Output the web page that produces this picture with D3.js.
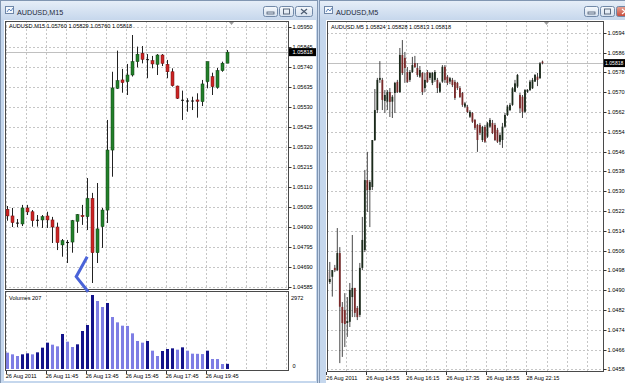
<!DOCTYPE html>
<html>
<head>
<meta charset="utf-8">
<script src="https://cdn.jsdelivr.net/npm/d3@7"></script>
<style>
body { margin: 0; background: #c9d9ee; }
svg { display: block; font-family: "Liberation Sans", Arial, sans-serif; }
</style>
</head>
<body>
<svg id="chart"></svg>
<script>
// ---- M15 chart (left) ----
var m15Open  = [1.04993,1.04958,1.04922,1.04916,1.05000,1.04980,1.04938,1.04937,1.04958,1.04937,1.04900,1.04806,1.04820,1.04821,1.04930,1.04961,1.04954,1.05050,1.04765,1.04902,1.04989,1.05304,1.05628,1.05672,1.05663,1.05698,1.05768,1.05812,1.05781,1.05773,1.05754,1.05803,1.05754,1.05715,1.05640,1.05568,1.05564,1.05564,1.05567,1.05558,1.05663,1.05689,1.05633,1.05721,1.05760];
var m15High  = [1.05010,1.05000,1.04942,1.05016,1.05016,1.04989,1.04963,1.04963,1.04980,1.04953,1.04923,1.04837,1.04832,1.04937,1.04968,1.05016,1.05157,1.05079,1.05131,1.05000,1.05462,1.05715,1.05826,1.05730,1.05756,1.05908,1.05847,1.05850,1.05808,1.05798,1.05808,1.05808,1.05777,1.05733,1.05642,1.05616,1.05576,1.05584,1.05602,1.05672,1.05768,1.05710,1.05735,1.05768,1.05829];
var m15Low   = [1.04933,1.04900,1.04900,1.04905,1.04963,1.04902,1.04902,1.04895,1.04895,1.04816,1.04779,1.04744,1.04711,1.04765,1.04869,1.04911,1.04884,1.04606,1.04711,1.04790,1.04921,1.05164,1.05625,1.05605,1.05593,1.05690,1.05738,1.05759,1.05681,1.05733,1.05698,1.05745,1.05681,1.05637,1.05572,1.05462,1.05505,1.05514,1.05474,1.05535,1.05628,1.05593,1.05626,1.05715,1.05760];
var m15Close = [1.04958,1.04923,1.04923,1.05000,1.04979,1.04933,1.04937,1.04954,1.04937,1.04900,1.04818,1.04828,1.04821,1.04933,1.04965,1.04954,1.05050,1.04765,1.04890,1.04989,1.05304,1.05630,1.05668,1.05658,1.05698,1.05768,1.05807,1.05780,1.05780,1.05756,1.05803,1.05759,1.05715,1.05642,1.05576,1.05567,1.05563,1.05563,1.05560,1.05651,1.05768,1.05637,1.05721,1.05760,1.05818];
var m15Volume = [656,589,522,589,629,589,669,857,1058,977,910,1406,1098,884,991,1526,1767,2972,2731,2490,2651,2088,1874,1740,1730,1432,1125,1058,1125,736,522,723,803,830,776,870,736,616,610,600,736,402,400,200,207];
var m15PriceTicks = ["1.04585","1.04690","1.04795","1.04900","1.05005","1.05110","1.05215","1.05320","1.05425","1.05530","1.05635","1.05740","1.05845","1.05950"];
var m15TimeBars = [0, 8, 16, 24, 32, 40];
var m15TimeLabels = ["26 Aug 2011","26 Aug 11:45","26 Aug 13:45","26 Aug 15:45","26 Aug 17:45","26 Aug 19:45"];
var m15Bid = 1.05818;
var m15VolumeMax = 2972;
// hand drawn "<" mark: [bar, price]
var m15Mark = [[16.1, 1.04744], [13.9, 1.04639], [16.3, 1.04560]];

// ---- M5 chart (right) ----
var m5Open  = [1.04975,1.04933,1.04954,1.04990,1.04981,1.05050,1.04832,1.04820,1.04767,1.04772,1.04872,1.04909,1.04828,1.04800,1.04990,1.05062,1.05345,1.05305,1.05317,1.05507,1.05628,1.05750,1.05750,1.05665,1.05662,1.05701,1.05662,1.05697,1.05742,1.05701,1.05851,1.05839,1.05782,1.05750,1.05782,1.05818,1.05798,1.05763,1.05778,1.05717,1.05782,1.05758,1.05738,1.05750,1.05750,1.05702,1.05743,1.05803,1.05763,1.05743,1.05750,1.05742,1.05738,1.05717,1.05697,1.05642,1.05641,1.05601,1.05616,1.05588,1.05568,1.05568,1.05507,1.05560,1.05520,1.05561,1.05576,1.05568,1.05548,1.05500,1.05507,1.05561,1.05608,1.05628,1.05649,1.05702,1.05723,1.05689,1.05682,1.05621,1.05702,1.05709,1.05716,1.05743,1.05763,1.05757,1.05824];
var m5High  = [1.05022,1.05014,1.04981,1.05002,1.05151,1.05074,1.04852,1.04888,1.04872,1.04929,1.05123,1.04909,1.04836,1.05010,1.05196,1.05386,1.05459,1.05345,1.05507,1.05713,1.05758,1.05826,1.05758,1.05709,1.05709,1.05717,1.05689,1.05742,1.05750,1.05879,1.05911,1.05863,1.05802,1.05790,1.05843,1.05847,1.05818,1.05806,1.05782,1.05778,1.05790,1.05782,1.05782,1.05790,1.05758,1.05742,1.05810,1.05810,1.05770,1.05762,1.05758,1.05750,1.05742,1.05725,1.05701,1.05661,1.05649,1.05628,1.05620,1.05592,1.05572,1.05576,1.05564,1.05568,1.05580,1.05596,1.05588,1.05576,1.05556,1.05535,1.05576,1.05616,1.05649,1.05657,1.05721,1.05750,1.05774,1.05697,1.05689,1.05713,1.05713,1.05750,1.05758,1.05774,1.05778,1.05822,1.05828];
var m5Low   = [1.04921,1.04925,1.04874,1.04973,1.04977,1.04605,1.04630,1.04670,1.04711,1.04751,1.04791,1.04791,1.04779,1.04791,1.04981,1.05054,1.05216,1.05155,1.05305,1.05503,1.05616,1.05738,1.05628,1.05616,1.05628,1.05600,1.05596,1.05616,1.05697,1.05697,1.05770,1.05738,1.05738,1.05742,1.05778,1.05798,1.05762,1.05758,1.05689,1.05701,1.05738,1.05750,1.05729,1.05742,1.05697,1.05697,1.05738,1.05738,1.05729,1.05733,1.05721,1.05669,1.05709,1.05677,1.05641,1.05636,1.05616,1.05596,1.05576,1.05548,1.05459,1.05527,1.05499,1.05495,1.05515,1.05556,1.05531,1.05503,1.05495,1.05487,1.05475,1.05556,1.05604,1.05624,1.05645,1.05701,1.05717,1.05616,1.05596,1.05616,1.05697,1.05705,1.05713,1.05742,1.05725,1.05754,1.05813];
var m5Close = [1.04934,1.04945,1.04981,1.04981,1.05050,1.04833,1.04767,1.04763,1.04775,1.04901,1.04909,1.04808,1.04791,1.04990,1.05103,1.05345,1.05305,1.05337,1.05507,1.05628,1.05750,1.05758,1.05669,1.05689,1.05702,1.05661,1.05682,1.05738,1.05701,1.05851,1.05778,1.05798,1.05742,1.05782,1.05810,1.05802,1.05770,1.05790,1.05701,1.05750,1.05742,1.05778,1.05778,1.05782,1.05717,1.05736,1.05803,1.05750,1.05738,1.05757,1.05729,1.05677,1.05717,1.05681,1.05649,1.05655,1.05620,1.05621,1.05581,1.05556,1.05507,1.05535,1.05560,1.05500,1.05575,1.05588,1.05535,1.05507,1.05500,1.05527,1.05561,1.05608,1.05642,1.05649,1.05716,1.05736,1.05770,1.05635,1.05621,1.05709,1.05709,1.05743,1.05750,1.05770,1.05750,1.05817,1.05818];
var m5PriceTicks = ["1.0458","1.0466","1.0474","1.0482","1.0490","1.0498","1.0506","1.0514","1.0522","1.0530","1.0538","1.0546","1.0554","1.0562","1.0570","1.0578","1.0586","1.0594"];
var m5TimeBars = [0, 16, 32, 48, 64, 80];
var m5TimeLabels = ["26 Aug 2011","26 Aug 14:55","26 Aug 16:15","26 Aug 17:35","26 Aug 18:55","28 Aug 22:15"];
var m5Bid = 1.05818;

var settings = { width: 625, height: 383 };

var svg = d3.select("#chart")
    .attr("width", settings.width)
    .attr("height", settings.height);

var defs = svg.append("defs");
var tg = defs.append("linearGradient").attr("id", "titleGrad")
    .attr("x1", 0).attr("y1", 0).attr("x2", 0).attr("y2", 1);
tg.append("stop").attr("offset", "0%").attr("stop-color", "#e6eef8");
tg.append("stop").attr("offset", "100%").attr("stop-color", "#c6d7ec");
var bg = defs.append("linearGradient").attr("id", "btnGrad")
    .attr("x1", 0).attr("y1", 0).attr("x2", 0).attr("y2", 1);
bg.append("stop").attr("offset", "0%").attr("stop-color", "#f6f9fc");
bg.append("stop").attr("offset", "100%").attr("stop-color", "#d5e0ee");
var rg = defs.append("linearGradient").attr("id", "closeGrad")
    .attr("x1", 0).attr("y1", 0).attr("x2", 0).attr("y2", 1);
rg.append("stop").attr("offset", "0%").attr("stop-color", "#e8a496");
rg.append("stop").attr("offset", "100%").attr("stop-color", "#c74a3a");

/* window chrome */
function drawWindow(x, w, title, closeRed) {
    var g = svg.append("g");
    g.append("rect").attr("x", x + 0.5).attr("y", 0.5).attr("width", w - 1).attr("height", 390)
        .attr("fill", "#c5d7ed").attr("stroke", "#8196b2");
    g.append("rect").attr("x", x + 1).attr("y", 1).attr("width", w - 2).attr("height", 19)
        .attr("fill", "url(#titleGrad)");
    // icon
    g.append("rect").attr("x", x + 5.5).attr("y", 6.5).attr("width", 8).attr("height", 7)
        .attr("fill", "#f4f8fc").attr("stroke", "#6f87a8");
    g.append("path").attr("d", "M" + (x + 7) + ",12 l2,-3 l2,2 l2,-3")
        .attr("fill", "none").attr("stroke", "#3a6ab0").attr("stroke-width", 0.8);
    g.append("text").attr("x", x + 17).attr("y", 14.5)
        .attr("font-size", "7.2px").attr("fill", "#1e2a3a").text(title);
    // buttons
    var bx = x + w - 55;
    [0, 1, 2].forEach(function (i) {
        var b = g.append("g").attr("transform", "translate(" + (bx + i * 16) + ",6)");
        b.append("rect").attr("x", 0.5).attr("y", 0.5).attr("width", i == 2 ? 17 : 14).attr("height", 10)
            .attr("rx", 2).attr("fill", (i == 2 && closeRed) ? "url(#closeGrad)" : "url(#btnGrad)")
            .attr("stroke", "#7189a8");
        if (i == 0) b.append("rect").attr("x", 4).attr("y", 6).attr("width", 7).attr("height", 2)
            .attr("fill", "none").attr("stroke", "#4a5a70").attr("stroke-width", 0.8);
        if (i == 1) b.append("rect").attr("x", 4.5).attr("y", 3).attr("width", 6).attr("height", 5)
            .attr("fill", "none").attr("stroke", "#4a5a70").attr("stroke-width", 0.9);
        if (i == 2) b.append("path").attr("d", "M6,3 L12,8 M12,3 L6,8")
            .attr("stroke", closeRed ? "#fff" : "#4a5a70").attr("stroke-width", 1.2);
    });
    return g;
}
drawWindow(0, 318, "AUDUSD,M15", false);
drawWindow(319, 320, "AUDUSD,M5", true);

// white client areas
svg.append("rect").attr("x", 4).attr("y", 20).attr("width", 312).attr("height", 361).attr("fill", "#fff");
svg.append("rect").attr("x", 326).attr("y", 20).attr("width", 300).attr("height", 363).attr("fill", "#fff");

var gridColor = "#c6c6c6";
var fs = "5.6px";

/* ---------------- left : M15 ---------------- */
var L = { x0: 5, x1: 288, y0: 21, y1: 289 };
var LV = { x0: 5, x1: 288, y0: 291, y1: 370 };

var xL = d3.scaleLinear().domain([0, 44]).range([6.7, 226.7]);
var yL = d3.scaleLinear().domain([1.04585, 1.05950]).range([287, 27]);
var yV = d3.scaleLinear().domain([0, m15VolumeMax]).range([LV.y1 - 1, 295]);

defs.append("clipPath").attr("id", "clipL").append("rect")
    .attr("x", L.x0).attr("y", L.y0).attr("width", L.x1 - L.x0).attr("height", L.y1 - L.y0);
defs.append("clipPath").attr("id", "clipLV").append("rect")
    .attr("x", LV.x0).attr("y", LV.y0).attr("width", LV.x1 - LV.x0).attr("height", LV.y1 - LV.y0);

var left = svg.append("g");
var gridL = left.append("g").attr("clip-path", "url(#clipL)");
gridL.selectAll("line.h").data(m15PriceTicks).enter().append("line")
    .attr("x1", L.x0).attr("x2", L.x1)
    .attr("y1", function (d) { return Math.round(yL(+d)) + 0.5; })
    .attr("y2", function (d) { return Math.round(yL(+d)) + 0.5; })
    .attr("stroke", gridColor).attr("stroke-dasharray", "2,2");
var vbarsL = d3.range(0, 57, 4);
gridL.selectAll("line.v").data(vbarsL).enter().append("line")
    .attr("x1", function (d) { return Math.round(xL(d)) - 0.5; })
    .attr("x2", function (d) { return Math.round(xL(d)) - 0.5; })
    .attr("y1", L.y0).attr("y2", L.y1)
    .attr("stroke", gridColor).attr("stroke-dasharray", "2,2");

var gridLV = left.append("g").attr("clip-path", "url(#clipLV)");
gridLV.selectAll("line.v").data(vbarsL).enter().append("line")
    .attr("x1", function (d) { return Math.round(xL(d)) - 0.5; })
    .attr("x2", function (d) { return Math.round(xL(d)) - 0.5; })
    .attr("y1", LV.y0).attr("y2", LV.y1)
    .attr("stroke", gridColor).attr("stroke-dasharray", "2,2");

// bid line
left.append("line").attr("x1", L.x0).attr("x2", L.x1)
    .attr("y1", Math.round(yL(m15Bid)) + 0.5).attr("y2", Math.round(yL(m15Bid)) + 0.5)
    .attr("stroke", "#c0c0c0");

// candles
var candL = left.append("g").attr("clip-path", "url(#clipL)")
    .selectAll("g").data(m15Open).enter().append("g");
candL.append("line")
    .attr("x1", function (d, i) { return Math.round(xL(i)) + 0.5; })
    .attr("x2", function (d, i) { return Math.round(xL(i)) + 0.5; })
    .attr("y1", function (d, i) { return yL(m15High[i]); })
    .attr("y2", function (d, i) { return yL(m15Low[i]); })
    .attr("stroke", "#222").attr("stroke-width", 1);
candL.append("rect")
    .attr("x", function (d, i) { return Math.round(xL(i)) - 1; })
    .attr("width", 3)
    .attr("y", function (d, i) { return yL(Math.max(m15Open[i], m15Close[i])); })
    .attr("height", function (d, i) { return Math.max(1, Math.abs(yL(m15Open[i]) - yL(m15Close[i]))); })
    .attr("fill", function (d, i) {
        var diff = m15Close[i] - m15Open[i];
        if (Math.abs(diff) < 0.00003) return "#111";
        return diff > 0 ? "#22802a" : "#cc2424";
    })
    .attr("stroke", function (d, i) {
        var diff = m15Close[i] - m15Open[i];
        if (Math.abs(diff) < 0.00003) return "none";
        return diff > 0 ? "#0e3f12" : "#6e1010";
    })
    .attr("stroke-width", 0.5);

// volumes
left.append("g").attr("clip-path", "url(#clipLV)")
    .selectAll("rect").data(m15Volume).enter().append("rect")
    .attr("x", function (d, i) { return Math.round(xL(i)) - 1; })
    .attr("width", 3)
    .attr("y", function (d) { return yV(d); })
    .attr("height", function (d) { return yV(0) - yV(d); })
    .attr("fill", function (d, i) { return (i > 0 && d > m15Volume[i - 1]) ? "#13138a" : "#7e7ee4"; });

// frames
left.append("rect").attr("x", L.x0 + 0.5).attr("y", L.y0 + 0.5)
    .attr("width", L.x1 - L.x0).attr("height", L.y1 - L.y0)
    .attr("fill", "none").attr("stroke", "#4a4a4a");
left.append("rect").attr("x", LV.x0 + 0.5).attr("y", LV.y0 + 0.5)
    .attr("width", LV.x1 - LV.x0).attr("height", LV.y1 - LV.y0)
    .attr("fill", "none").attr("stroke", "#4a4a4a");

// price axis
var pl = left.append("g");
pl.selectAll("line").data(m15PriceTicks).enter().append("line")
    .attr("x1", L.x1 + 0.5).attr("x2", L.x1 + 3.5)
    .attr("y1", function (d) { return Math.round(yL(+d)) + 0.5; })
    .attr("y2", function (d) { return Math.round(yL(+d)) + 0.5; })
    .attr("stroke", "#333");
pl.selectAll("text").data(m15PriceTicks).enter().append("text")
    .attr("x", L.x1 + 4.5).attr("y", function (d) { return yL(+d) + 2; })
    .attr("font-size", fs).attr("fill", "#000").text(function (d) { return d; });
left.append("rect").attr("x", L.x1 + 1).attr("y", yL(m15Bid) - 4).attr("width", 27).attr("height", 8).attr("fill", "#000");
left.append("text").attr("x", L.x1 + 4.5).attr("y", yL(m15Bid) + 2)
    .attr("font-size", fs).attr("fill", "#fff").text(m15Bid.toFixed(5));

// volume axis
left.append("text").attr("x", L.x1 + 3).attr("y", 300).attr("font-size", fs).text(m15VolumeMax);
left.append("text").attr("x", L.x1 + 4.5).attr("y", yV(0) - 1).attr("font-size", fs).text("0");
left.append("text").attr("x", 9).attr("y", 300).attr("font-size", fs)
    .text("Volumes " + m15Volume[m15Volume.length - 1]);

// time axis
var tl = left.append("g");
tl.selectAll("line").data(m15TimeBars).enter().append("line")
    .attr("x1", function (d) { return Math.round(xL(d)) - 0.5; })
    .attr("x2", function (d) { return Math.round(xL(d)) - 0.5; })
    .attr("y1", LV.y1 + 1).attr("y2", LV.y1 + 4).attr("stroke", "#333");
tl.selectAll("text").data(m15TimeBars).enter().append("text")
    .attr("x", function (d) { return xL(d) - 1; }).attr("y", 378)
    .attr("font-size", fs).text(function (d, i) { return m15TimeLabels[i]; });

// header
left.append("text").attr("x", 9).attr("y", 28).attr("font-size", fs)
    .text("AUDUSD.M15  " + [m15Open[44], m15High[44], m15Low[44], m15Close[44]].map(function (v) { return v.toFixed(5); }).join(" "));
left.append("path").attr("d", "M229,22 l5,0 l-2.5,3 z").attr("fill", "#9a9a9a");

// drawn mark
left.append("path")
    .attr("d", d3.line().x(function (d) { return xL(d[0]); }).y(function (d) { return yL(d[1]); })(m15Mark))
    .attr("fill", "none").attr("stroke", "#4a63d8").attr("stroke-width", 3);

/* ---------------- right : M5 ---------------- */
var R = { x0: 327, x1: 603, y0: 21, y1: 371 };
var xR = d3.scaleLinear().domain([0, 86]).range([327.3, 542.5]);
var yR = d3.scaleLinear().domain([1.0458, 1.0594]).range([369.3, 32.9]);

defs.append("clipPath").attr("id", "clipR").append("rect")
    .attr("x", R.x0).attr("y", R.y0).attr("width", R.x1 - R.x0).attr("height", R.y1 - R.y0);

var right = svg.append("g");
var gridR = right.append("g").attr("clip-path", "url(#clipR)");
gridR.selectAll("line.h").data(m5PriceTicks).enter().append("line")
    .attr("x1", R.x0).attr("x2", R.x1)
    .attr("y1", function (d) { return Math.round(yR(+d)) + 0.5; })
    .attr("y2", function (d) { return Math.round(yR(+d)) + 0.5; })
    .attr("stroke", gridColor).attr("stroke-dasharray", "2,2");
var vbarsR = d3.range(0, 120, 8);
gridR.selectAll("line.v").data(vbarsR).enter().append("line")
    .attr("x1", function (d) { return Math.round(xR(d)) - 0.5; })
    .attr("x2", function (d) { return Math.round(xR(d)) - 0.5; })
    .attr("y1", R.y0).attr("y2", R.y1)
    .attr("stroke", gridColor).attr("stroke-dasharray", "2,2");

right.append("line").attr("x1", R.x0).attr("x2", R.x1)
    .attr("y1", Math.round(yR(m5Bid)) + 0.5).attr("y2", Math.round(yR(m5Bid)) + 0.5)
    .attr("stroke", "#c0c0c0");

var candR = right.append("g").attr("clip-path", "url(#clipR)")
    .selectAll("g").data(m5Open).enter().append("g");
candR.append("line")
    .attr("x1", function (d, i) { return xR(i); })
    .attr("x2", function (d, i) { return xR(i); })
    .attr("y1", function (d, i) { return yR(m5High[i]); })
    .attr("y2", function (d, i) { return yR(m5Low[i]); })
    .attr("stroke", "#333").attr("stroke-width", 0.9);
candR.append("rect")
    .attr("x", function (d, i) { return xR(i) - 0.9; })
    .attr("width", 1.8)
    .attr("y", function (d, i) { return yR(Math.max(m5Open[i], m5Close[i])); })
    .attr("height", function (d, i) { return Math.max(0.8, Math.abs(yR(m5Open[i]) - yR(m5Close[i]))); })
    .attr("fill", function (d, i) { return m5Close[i] >= m5Open[i] ? "#1b2a1b" : "#7a2a2a"; });

right.append("rect").attr("x", R.x0 + 0.5).attr("y", R.y0 + 0.5)
    .attr("width", R.x1 - R.x0).attr("height", R.y1 - R.y0)
    .attr("fill", "none").attr("stroke", "#4a4a4a");

var pr = right.append("g");
pr.selectAll("line").data(m5PriceTicks).enter().append("line")
    .attr("x1", R.x1 + 0.5).attr("x2", R.x1 + 3.5)
    .attr("y1", function (d) { return Math.round(yR(+d)) + 0.5; })
    .attr("y2", function (d) { return Math.round(yR(+d)) + 0.5; })
    .attr("stroke", "#333");
pr.selectAll("text").data(m5PriceTicks).enter().append("text")
    .attr("x", R.x1 + 4.5).attr("y", function (d) { return yR(+d) + 2; })
    .attr("font-size", fs).text(function (d) { return d; });
right.append("rect").attr("x", R.x1 + 1).attr("y", yR(m5Bid) - 4).attr("width", 22).attr("height", 8).attr("fill", "#000");
right.append("text").attr("x", R.x1 + 2).attr("y", yR(m5Bid) + 2)
    .attr("font-size", "5.1px").attr("fill", "#fff").text(m5Bid.toFixed(5));

var tr = right.append("g");
tr.selectAll("line").data(m5TimeBars).enter().append("line")
    .attr("x1", function (d) { return Math.round(xR(d)) - 0.5; })
    .attr("x2", function (d) { return Math.round(xR(d)) - 0.5; })
    .attr("y1", R.y1 + 1).attr("y2", R.y1 + 4).attr("stroke", "#333");
tr.selectAll("text").data(m5TimeBars).enter().append("text")
    .attr("x", function (d) { return xR(d) - 1; }).attr("y", 380)
    .attr("font-size", fs).text(function (d, i) { return m5TimeLabels[i]; });

right.append("text").attr("x", 331).attr("y", 29).attr("font-size", fs)
    .text("AUDUSD.M5  " + [m5Open[86], m5High[86], m5Low[86], m5Close[86]].map(function (v) { return v.toFixed(5); }).join(" "));
right.append("path").attr("d", "M544,22 l5,0 l-2.5,3 z").attr("fill", "#9a9a9a");
</script>
</body>
</html>
